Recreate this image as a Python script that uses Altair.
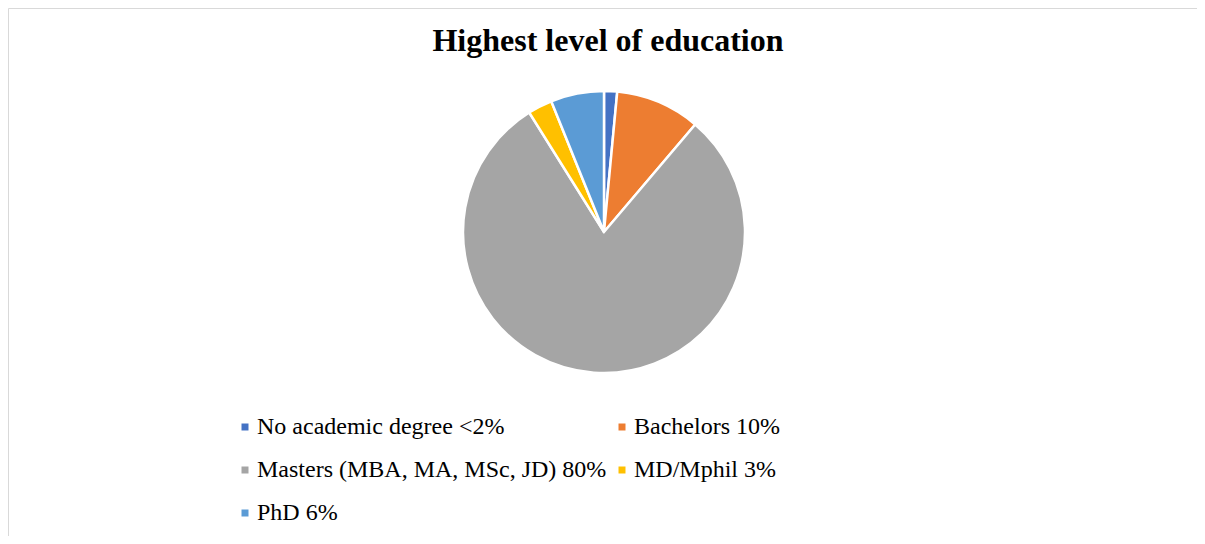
import altair as alt
import pandas as pd

categories = ["No academic degree <2%", "Bachelors 10%", "Masters (MBA, MA, MSc, JD) 80%", "MD/Mphil 3%", "PhD 6%"]
shares = [1.5, 9.7, 79.9, 2.8, 6.1]
colors = ["#4472C4", "#ED7D31", "#A5A5A5", "#FFC000", "#5B9BD5"]
title_text = "Highest level of education"

df = pd.DataFrame({"category": categories, "share": shares, "order": list(range(len(categories)))})

pie = alt.Chart(df).mark_arc(outerRadius=141, stroke="white", strokeWidth=2.5).encode(
    theta=alt.Theta("share:Q", stack=True),
    color=alt.Color(
        "category:N",
        scale=alt.Scale(domain=categories, range=colors),
        sort=categories,
        legend=alt.Legend(
            orient="none", legendX=225, legendY=407, columns=2, direction="horizontal", title=None,
            symbolType="square", symbolSize=49, symbolStrokeWidth=0,
            labelFont="Liberation Serif", labelFontSize=24, labelColor="black",
            rowPadding=19, columnPadding=3, labelOffset=0, labelLimit=600,
        ),
    ),
    order=alt.Order("order:Q"),
    x=alt.value(596),
    y=alt.value(224),
)

title = alt.Chart(pd.DataFrame({"t": [title_text]})).mark_text(
    font="Liberation Serif", fontSize=32, fontWeight="bold", baseline="alphabetic", align="center", color="black"
).encode(text="t:N", x=alt.value(600), y=alt.value(43))

chart = alt.layer(pie, title).properties(
    width=1189, height=528, padding=0, autosize="none"
).configure_view(stroke="#d9d9d9").configure_legend(labelFont="Liberation Serif")

chart.save("out.html", embed_options={"renderer": "svg", "actions": False})
